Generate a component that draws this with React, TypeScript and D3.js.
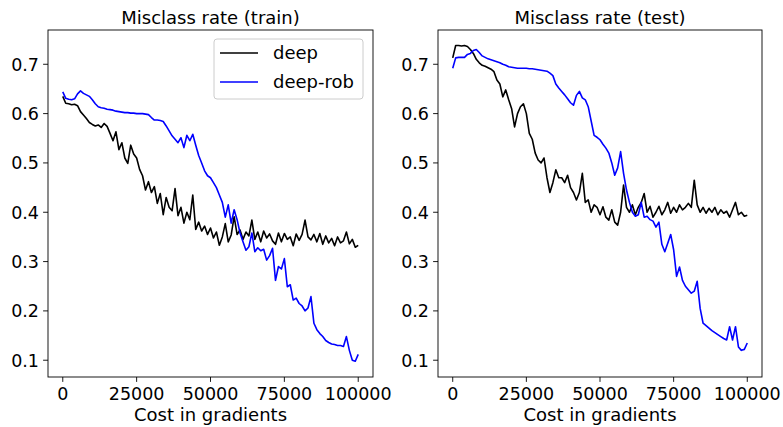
import React from "react";
import * as d3 from "d3";

const STEP = 1000;
const xValues = d3.range(0, 100001, STEP);

const trainDeep = [
  0.635, 0.621, 0.62, 0.618, 0.619, 0.616, 0.604, 0.597, 0.59, 0.582,
  0.578, 0.575, 0.577, 0.572, 0.58, 0.574, 0.56, 0.545, 0.563, 0.527,
  0.541, 0.51, 0.499, 0.536, 0.518, 0.51, 0.487, 0.474, 0.445, 0.462,
  0.44, 0.452, 0.418, 0.438, 0.395, 0.43, 0.41, 0.403, 0.448, 0.393,
  0.41, 0.378, 0.4, 0.385, 0.435, 0.365, 0.38, 0.362, 0.372, 0.355,
  0.368, 0.348, 0.36, 0.333, 0.35, 0.377, 0.34, 0.354, 0.391, 0.355,
  0.364, 0.345, 0.36, 0.352, 0.384, 0.345, 0.36, 0.34, 0.362, 0.348,
  0.356, 0.342, 0.335, 0.358, 0.34, 0.357, 0.345, 0.35, 0.332, 0.356,
  0.343, 0.355, 0.384, 0.35, 0.344, 0.355, 0.34, 0.357, 0.335, 0.352,
  0.338, 0.347, 0.332, 0.35, 0.338, 0.342, 0.36, 0.336, 0.345, 0.329,
  0.333,
];

const trainRob = [
  0.644, 0.631, 0.629, 0.628, 0.63, 0.64, 0.646, 0.641, 0.638, 0.635,
  0.628, 0.62, 0.614, 0.612, 0.611, 0.609, 0.608, 0.607, 0.605, 0.604,
  0.603, 0.602, 0.602, 0.601, 0.601, 0.6, 0.6, 0.6, 0.599, 0.598,
  0.592, 0.587, 0.587, 0.586, 0.584, 0.575, 0.565, 0.555, 0.548, 0.541,
  0.551, 0.531, 0.556, 0.545, 0.558, 0.536, 0.515, 0.5, 0.484, 0.474,
  0.47, 0.46, 0.45, 0.435, 0.42, 0.39, 0.415, 0.378, 0.405, 0.385,
  0.358, 0.34, 0.323, 0.33, 0.358, 0.32, 0.328, 0.322, 0.325, 0.303,
  0.312, 0.327, 0.262, 0.29, 0.285, 0.306, 0.249, 0.253, 0.222, 0.226,
  0.215, 0.21, 0.2, 0.206, 0.229, 0.175, 0.162, 0.154, 0.148, 0.14,
  0.136, 0.133, 0.132, 0.13, 0.13, 0.128, 0.148, 0.12, 0.1, 0.098,
  0.112,
];

const testDeep = [
  0.713, 0.738, 0.738, 0.737, 0.738, 0.736, 0.73, 0.722, 0.71, 0.703,
  0.698, 0.696, 0.693, 0.69, 0.685, 0.668, 0.66, 0.634, 0.648, 0.628,
  0.61, 0.573, 0.6, 0.614, 0.62, 0.6, 0.56, 0.548, 0.52, 0.506,
  0.5, 0.51, 0.47, 0.44, 0.46, 0.486, 0.47, 0.47, 0.46, 0.475,
  0.45, 0.44, 0.425, 0.44, 0.479, 0.42, 0.425, 0.4, 0.415, 0.41,
  0.395, 0.411, 0.39, 0.384, 0.405, 0.38, 0.374, 0.4, 0.455, 0.41,
  0.4, 0.415, 0.395, 0.41, 0.42, 0.438, 0.4, 0.412, 0.39, 0.4,
  0.412, 0.395, 0.405, 0.42, 0.398, 0.41, 0.4, 0.415, 0.405, 0.41,
  0.418, 0.41, 0.465, 0.415, 0.4, 0.41, 0.398, 0.408, 0.4, 0.41,
  0.395, 0.405, 0.398, 0.402, 0.39, 0.405, 0.42, 0.395, 0.4, 0.392,
  0.394,
];

const testRob = [
  0.692, 0.713, 0.714, 0.714, 0.714, 0.72, 0.722, 0.728, 0.73, 0.724,
  0.717, 0.714, 0.711, 0.709, 0.707, 0.705, 0.703, 0.7, 0.698, 0.695,
  0.694, 0.693, 0.692, 0.692, 0.692, 0.692, 0.691, 0.691, 0.69, 0.689,
  0.688, 0.687, 0.686, 0.682, 0.677, 0.66, 0.652, 0.645, 0.638, 0.63,
  0.622, 0.617, 0.637, 0.645, 0.632, 0.628, 0.614, 0.585, 0.556, 0.552,
  0.547, 0.538, 0.53, 0.52, 0.5, 0.475, 0.49, 0.523, 0.479, 0.445,
  0.42, 0.4, 0.392, 0.395, 0.42, 0.39, 0.392, 0.385, 0.382, 0.37,
  0.38, 0.335, 0.32, 0.337, 0.355, 0.324, 0.27, 0.289, 0.262, 0.25,
  0.243, 0.236, 0.24, 0.26, 0.205, 0.175, 0.17, 0.165, 0.16, 0.156,
  0.152, 0.148, 0.144, 0.141, 0.168, 0.141, 0.168, 0.127, 0.12, 0.122,
  0.135,
];

const xTicks = [0, 25000, 50000, 75000, 100000];
const yTicks = [0.1, 0.2, 0.3, 0.4, 0.5, 0.6, 0.7];
const seriesNames = ["deep", "deep-rob"];
const seriesColors = ["#000000", "#0000ff"];
const titles = ["Misclass rate (train)", "Misclass rate (test)"];
const xLabel = "Cost in gradients";

const FONT = "DejaVu Sans, sans-serif";
const TICK_FS = 17.5;

function Panel({ left, right, top, bottom, title, series, legend }) {
  const x = d3.scaleLinear().domain([-5000, 105000]).range([left, right]);
  const y = d3.scaleLinear().domain([0.066, 0.7695]).range([bottom, top]);
  const line = d3
    .line<number>()
    .x((_, i) => x(xValues[i]))
    .y((d) => y(d));
  const cx = (left + right) / 2;
  return (
    <g>
      {series.map((s, k) => (
        <path
          key={k}
          d={line(s) || ""}
          fill="none"
          stroke={seriesColors[k]}
          strokeWidth={1.6}
          strokeLinejoin="round"
        />
      ))}
      <rect
        x={left}
        y={top}
        width={right - left}
        height={bottom - top}
        fill="none"
        stroke="#000"
        strokeWidth={0.9}
      />
      {xTicks.map((t) => (
        <g key={t}>
          <line x1={x(t)} x2={x(t)} y1={bottom} y2={bottom + 4.9} stroke="#000" strokeWidth={0.9} />
          <text
            x={x(t)}
            y={399.5}
            textAnchor="middle"
            fontSize={TICK_FS}
            fontFamily={FONT}
            fill="#000"
          >
            {t}
          </text>
        </g>
      ))}
      {yTicks.map((t) => (
        <g key={t}>
          <line x1={left - 4.9} x2={left} y1={y(t)} y2={y(t)} stroke="#000" strokeWidth={0.9} />
          <text
            x={left - 9}
            y={y(t)}
            dy="0.36em"
            textAnchor="end"
            fontSize={TICK_FS}
            fontFamily={FONT}
            fill="#000"
          >
            {t.toFixed(1)}
          </text>
        </g>
      ))}
      <text x={cx} y={24} textAnchor="middle" fontSize={18} fontFamily={FONT} fill="#000">
        {title}
      </text>
      <text x={cx} y={421} textAnchor="middle" fontSize={18} fontFamily={FONT} fill="#000">
        {xLabel}
      </text>
      {legend && (
        <g>
          <rect
            x={214}
            y={39}
            width={149}
            height={60}
            rx={3}
            fill="#fff"
            fillOpacity={0.8}
            stroke="#cccccc"
            strokeWidth={1}
          />
          {seriesNames.map((n, k) => (
            <g key={n}>
              <line
                x1={220}
                x2={258}
                y1={53 + k * 29}
                y2={53 + k * 29}
                stroke={seriesColors[k]}
                strokeWidth={1.5}
              />
              <text
                x={273}
                y={53 + k * 29}
                dy="0.36em"
                fontSize={18}
                fontFamily={FONT}
                fill="#000"
              >
                {n}
              </text>
            </g>
          ))}
        </g>
      )}
    </g>
  );
}

export default function App() {
  return (
    <svg
      width={783}
      height={427}
      style={{ position: "absolute", left: 0, top: 0, background: "#fff" }}
    >
      <rect x={0} y={0} width={783} height={427} fill="#fff" />
      <Panel left={48} right={373} top={30} bottom={377} title={titles[0]} series={[trainDeep, trainRob]} legend />
      <Panel left={438} right={762} top={30} bottom={377} title={titles[1]} series={[testDeep, testRob]} legend={false} />
    </svg>
  );
}
